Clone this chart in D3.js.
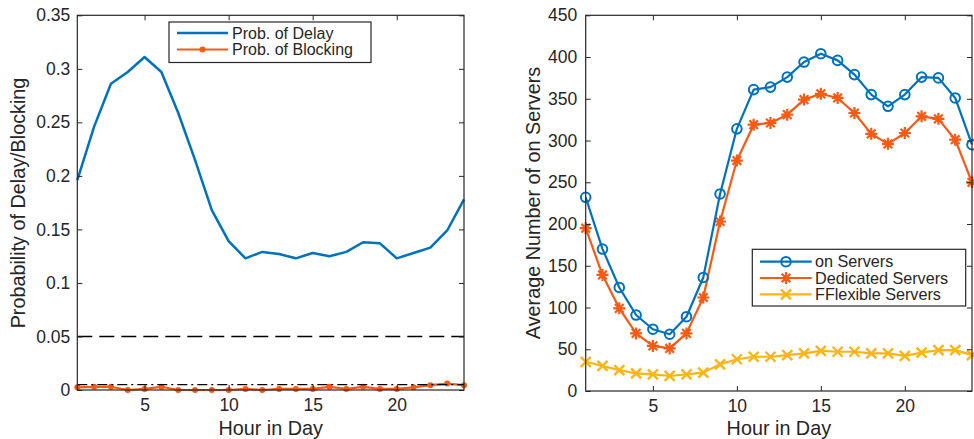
<!DOCTYPE html>
<html>
<head>
<meta charset="utf-8">
<script src="https://cdn.jsdelivr.net/npm/d3@7"></script>
<style>
  html, body { margin: 0; padding: 0; background: #fff; }
  svg { display: block; }
  text { font-family: "Liberation Sans", Arial, Helvetica, sans-serif; fill: #262626; }
</style>
</head>
<body>
<svg id="chart" width="974" height="439"></svg>
<script>
// Hours of the day
const hours = [1,2,3,4,5,6,7,8,9,10,11,12,13,14,15,16,17,18,19,20,21,22,23,24];

// Left panel: probabilities per hour
const probDelay = [0.196,0.246,0.286,0.297,0.311,0.297,0.259,0.215,0.168,0.139,0.123,0.129,
                   0.127,0.123,0.128,0.125,0.129,0.138,0.137,0.123,0.128,0.133,0.149,0.178];
const probBlocking = [0.0025,0.003,0.003,0.0,0.001,0.003,0.0,0.0,0.0,0.0,0.001,0.0,
                      0.001,0.001,0.001,0.003,0.001,0.003,0.001,0.001,0.0025,0.0045,0.006,0.0045];
const delayTarget = 0.05;
const blockingTarget = 0.005;

// Right panel: average number of servers per hour
const onServers = [232,170,124,91,74,68,89,136,236,314,361,364,376,394,404,396,379,355,341,355,376,375,351,295];
const dedicatedServers = [195,139,99,69,54,51,69,112,203,276,319,321,331,349,356,351,333,308,296,309,329,326,301,250];
const flexibleServers = [35,30,25,21,20,18,20,22,32,38,41,41,43,45,48,47,47,45,45,42,46,49,49,43];

// Tick values
const xTicks = [5,10,15,20];
const probTicks = [0,0.05,0.1,0.15,0.2,0.25,0.3,0.35];
const serverTicks = [0,50,100,150,200,250,300,350,400,450];

const legendLeft = ["Prob. of Delay", "Prob. of Blocking"];
const legendRight = ["on Servers", "Dedicated Servers", "FFlexible Servers"];

const BLUE = "#0072BD", ORANGE = "#F85A14", YELLOW = "#FDB415", INK = "#262626";

const svg = d3.select("#chart");
svg.append("rect").attr("width", 974).attr("height", 439).attr("fill", "#fff");

function frame(g, x, y, yTicks, yFmt, yPad) {
  const [x0, x1] = x.range();
  const [y0, y1] = y.range();
  g.append("g").attr("transform", `translate(0,${y0})`)
    .call(d3.axisBottom(x).tickValues(xTicks).tickSizeInner(-5).tickSizeOuter(0).tickPadding(9))
    .call(a => a.select(".domain").remove());
  g.append("g").attr("transform", `translate(0,${y1})`)
    .call(d3.axisTop(x).tickValues(xTicks).tickSizeInner(-5).tickSizeOuter(0).tickFormat(""))
    .call(a => a.select(".domain").remove());
  g.append("g").attr("transform", `translate(${x0},0)`)
    .call(d3.axisLeft(y).tickValues(yTicks).tickFormat(yFmt).tickSizeInner(-5).tickSizeOuter(0).tickPadding(yPad))
    .call(a => a.select(".domain").remove());
  g.append("g").attr("transform", `translate(${x1},0)`)
    .call(d3.axisRight(y).tickValues(yTicks).tickSizeInner(-5).tickSizeOuter(0).tickFormat(""))
    .call(a => a.select(".domain").remove());
  g.selectAll(".tick line").attr("stroke", INK);
  g.selectAll(".tick text").attr("font-size", 17.5).attr("fill", INK)
    .style("font-family", '"Liberation Sans", Arial, Helvetica, sans-serif');
  g.append("rect").attr("x", x0).attr("y", y1).attr("width", x1 - x0).attr("height", y0 - y1)
    .attr("fill", "none").attr("stroke", INK).attr("stroke-width", 1.2);
}

function asterisk(sel, s) {
  const p = s, d = s * 0.72;
  sel.append("path")
    .attr("d", `M${-p},0H${p}M0,${-p}V${p}M${-d},${-d}L${d},${d}M${-d},${d}L${d},${-d}`);
}
function cross(sel, s) {
  sel.append("path").attr("d", `M${-s},${-s}L${s},${s}M${-s},${s}L${s},${-s}`);
}

// ---------- Left panel ----------
const xL = d3.scaleLinear().domain([1, 24]).range([77.3, 464]);
const yL = d3.scaleLinear().domain([0, 0.35]).range([390, 15.3]);
const gL = svg.append("g");

const lineL = data => d3.line().x((d, i) => xL(hours[i])).y(d => yL(d))(data);

gL.append("path").attr("d", lineL(probDelay))
  .attr("fill", "none").attr("stroke", BLUE).attr("stroke-width", 2.5).attr("stroke-linejoin", "round");
gL.append("path").attr("d", lineL(probBlocking))
  .attr("fill", "none").attr("stroke", ORANGE).attr("stroke-width", 2.2).attr("stroke-linejoin", "round");
gL.append("g").selectAll("circle").data(probBlocking).join("circle")
  .attr("cx", (d, i) => xL(hours[i])).attr("cy", d => yL(d)).attr("r", 3).attr("fill", ORANGE);

// target levels
gL.append("line").attr("x1", xL(1)).attr("x2", xL(24))
  .attr("y1", yL(delayTarget)).attr("y2", yL(delayTarget))
  .attr("stroke", "#000").attr("stroke-width", 1.4).attr("stroke-dasharray", "15,7");
gL.append("line").attr("x1", xL(1)).attr("x2", xL(24))
  .attr("y1", yL(blockingTarget)).attr("y2", yL(blockingTarget))
  .attr("stroke", "#000").attr("stroke-width", 1.4).attr("stroke-dasharray", "10,4,2,4");

frame(gL, xL, yL, probTicks, d3.format("~g"), 7);

gL.append("text").attr("x", (77.3 + 464) / 2).attr("y", 434.5).attr("text-anchor", "middle")
  .attr("font-size", 19.8).text("Hour in Day");
gL.append("text").attr("transform", "translate(25,203) rotate(-90)").attr("text-anchor", "middle")
  .attr("font-size", 19.8).text("Probability of Delay/Blocking");

// legend
const lgL = gL.append("g");
lgL.append("rect").attr("x", 169).attr("y", 22).attr("width", 202).attr("height", 40.5)
  .attr("fill", "#fff").attr("stroke", INK).attr("stroke-width", 1.2);
const lgLRows = [{c: BLUE, dot: false}, {c: ORANGE, dot: true}];
lgLRows.forEach((r, i) => {
  const cy = 33 + i * 16.5;
  lgL.append("line").attr("x1", 177).attr("x2", 228).attr("y1", cy).attr("y2", cy)
    .attr("stroke", r.c).attr("stroke-width", r.dot ? 2.2 : 2.5);
  if (r.dot) lgL.append("circle").attr("cx", 202.5).attr("cy", cy).attr("r", 3).attr("fill", r.c);
  lgL.append("text").attr("x", 232).attr("y", cy).attr("dy", "0.35em")
    .attr("font-size", 16).text(legendLeft[i]);
});

// ---------- Right panel ----------
const xR = d3.scaleLinear().domain([1, 24]).range([585.7, 972]);
const yR = d3.scaleLinear().domain([0, 450]).range([391, 15.3]);
const gR = svg.append("g");

const lineR = data => d3.line().x((d, i) => xR(hours[i])).y(d => yR(d))(data);

const seriesR = [
  {data: onServers, c: BLUE, m: "o"},
  {data: dedicatedServers, c: ORANGE, m: "*"},
  {data: flexibleServers, c: YELLOW, m: "x"}
];

function marker(sel, m, c) {
  if (m === "o") sel.append("circle").attr("r", 4.8).attr("fill", "none").attr("stroke", c).attr("stroke-width", 2);
  else if (m === "*") { asterisk(sel, 6); sel.select("path").attr("stroke", c).attr("stroke-width", 2.2); }
  else { cross(sel, 5); sel.select("path").attr("stroke", c).attr("stroke-width", 2.4); }
}

seriesR.slice().reverse().forEach(s => {
  gR.append("path").attr("d", lineR(s.data)).attr("fill", "none")
    .attr("stroke", s.c).attr("stroke-width", 2.2).attr("stroke-linejoin", "round");
  gR.append("g").selectAll("g").data(s.data).join("g")
    .attr("transform", (d, i) => `translate(${xR(hours[i])},${yR(d)})`)
    .each(function() { marker(d3.select(this), s.m, s.c); });
});

frame(gR, xR, yR, serverTicks, d3.format("d"), 8.5);

gR.append("text").attr("x", (585.7 + 972) / 2).attr("y", 434.5).attr("text-anchor", "middle")
  .attr("font-size", 19.8).text("Hour in Day");
gR.append("text").attr("transform", "translate(540,203) rotate(-90)").attr("text-anchor", "middle")
  .attr("font-size", 19.8).text("Average Number of on Servers");

const lgR = gR.append("g");
lgR.append("rect").attr("x", 752.3).attr("y", 249.3).attr("width", 213.4).attr("height", 56.7)
  .attr("fill", "#fff").attr("stroke", INK).attr("stroke-width", 1.2);
seriesR.forEach((s, i) => {
  const cy = 261.7 + i * 16.3;
  lgR.append("line").attr("x1", 760).attr("x2", 811.7).attr("y1", cy).attr("y2", cy)
    .attr("stroke", s.c).attr("stroke-width", 2.2);
  marker(lgR.append("g").attr("transform", `translate(786,${cy})`), s.m, s.c);
  lgR.append("text").attr("x", 815).attr("y", cy).attr("dy", "0.35em")
    .attr("font-size", 16.2).text(legendRight[i]);
});
</script>
</body>
</html>
